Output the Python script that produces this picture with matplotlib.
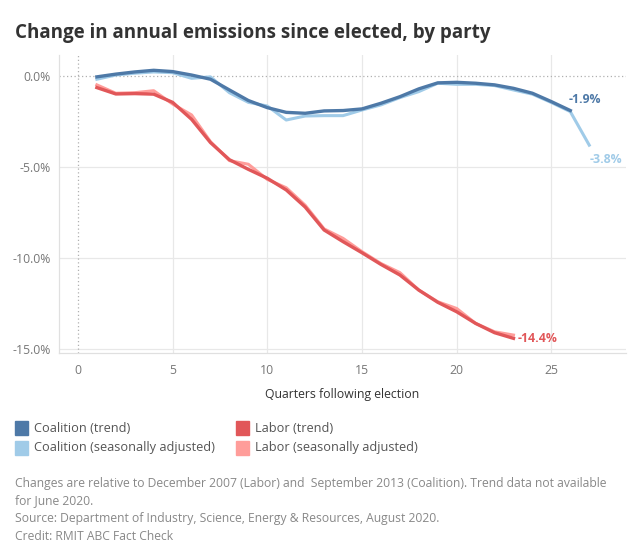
import matplotlib.pyplot as plt
from matplotlib.patches import Rectangle

plt.rcParams['font.family'] = ['Open Sans', 'DejaVu Sans']

# quarters following election
quarters_coal = list(range(1, 28))
quarters_lab = list(range(1, 24))

# coalition trend has no value for the last quarter (June 2020)
coal_trend = [-0.05, 0.10, 0.22, 0.31, 0.24, 0.05, -0.18, -0.77, -1.35, -1.74,
              -2.00, -2.05, -1.92, -1.90, -1.81, -1.50, -1.14, -0.71, -0.38, -0.35,
              -0.40, -0.49, -0.68, -0.95, -1.41, -1.90]
coal_sa = [-0.18, 0.05, 0.15, 0.22, 0.18, -0.13, -0.05, -0.92, -1.45, -1.65,
           -2.42, -2.20, -2.18, -2.18, -1.87, -1.59, -1.19, -0.86, -0.40, -0.46,
           -0.46, -0.53, -0.77, -1.00, -1.46, -1.96, -3.80]
lab_trend = [-0.64, -0.99, -0.97, -1.00, -1.45, -2.38, -3.66, -4.60, -5.13, -5.62,
             -6.26, -7.20, -8.46, -9.10, -9.71, -10.35, -10.93, -11.76, -12.43, -12.95,
             -13.59, -14.10, -14.41]
lab_sa = [-0.49, -0.95, -0.92, -0.81, -1.54, -2.14, -3.61, -4.65, -4.85, -5.68,
          -6.14, -7.10, -8.40, -8.92, -9.65, -10.30, -10.80, -11.76, -12.40, -12.77,
          -13.59, -14.05, -14.23]

c_coal = '#4e79a7'
c_coal_sa = '#a0cbe8'
c_lab = '#e15759'
c_lab_sa = '#ff9d9a'

fig = plt.figure(figsize=(6.37, 5.59), dpi=100)
ax = fig.add_axes([0.0926, 0.369, 0.8904, 0.5326])

ax.plot(quarters_lab, lab_sa, color=c_lab_sa, lw=2.2, solid_joinstyle='round')
ax.plot(quarters_lab, lab_trend, color=c_lab, lw=2.4, solid_joinstyle='round')
ax.plot(quarters_coal, coal_sa, color=c_coal_sa, lw=2.2, solid_joinstyle='round')
ax.plot(quarters_coal[:-1], coal_trend, color=c_coal, lw=2.4, solid_joinstyle='round')

# end labels
ax.annotate('-1.9%', (quarters_coal[-2], coal_trend[-1]), xytext=(-1, 3.5),
            textcoords='offset points', color=c_coal, fontsize=8.8,
            fontweight='bold', va='bottom', ha='left')
ax.annotate('-3.8%', (quarters_coal[-1], coal_sa[-1]), xytext=(0, -5.5),
            textcoords='offset points', color=c_coal_sa, fontsize=8.8,
            fontweight='bold', va='top', ha='left')
ax.annotate('-14.4%', (quarters_lab[-1], lab_trend[-1]), xytext=(3, 0),
            textcoords='offset points', color=c_lab, fontsize=8.8,
            fontweight='bold', va='center', ha='left')

ax.set_xlim(-1, 28.95)
ax.set_ylim(-15.2, 1.15)
ax.set_xticks([0, 5, 10, 15, 20, 25])
ax.set_yticks([0, -5, -10, -15])
ax.set_yticklabels(['0.0%', '-5.0%', '-10.0%', '-15.0%'])
ax.tick_params(length=0, labelsize=8.8, labelcolor='#777777')
ax.tick_params(axis='x', pad=8)
ax.tick_params(axis='y', pad=6)

for x in [5, 10, 15, 20, 25]:
    ax.axvline(x, color='#e8e8e8', lw=0.9, zorder=0)
for y in [-5, -10, -15]:
    ax.axhline(y, color='#e8e8e8', lw=0.9, zorder=0)
ax.axhline(0, color='#b0b0b0', lw=0.9, ls=(0, (1, 2)), zorder=0)
ax.axvline(0, color='#b0b0b0', lw=0.9, ls=(0, (1, 2)), zorder=0)

for s in ['top', 'right']:
    ax.spines[s].set_visible(False)
for s in ['left', 'bottom']:
    ax.spines[s].set_color('#e0e0e0')
    ax.spines[s].set_linewidth(0.9)

ax.set_xlabel('Quarters following election', fontsize=8.8, color='#333333',
              labelpad=8)

fig.text(15 / 637, 1 - 33 / 559, 'Change in annual emissions since elected, by party',
         fontsize=13.5, fontweight='bold', color='#333333', va='center')

# legend
legend_items = [('Coalition (trend)', c_coal, 15, 428),
                ('Coalition (seasonally adjusted)', c_coal_sa, 15, 448),
                ('Labor (trend)', c_lab, 236, 428),
                ('Labor (seasonally adjusted)', c_lab_sa, 236, 448)]
for label, col, px, py in legend_items:
    fig.patches.append(Rectangle((px / 637, 1 - (py + 7) / 559), 13 / 637, 14 / 559,
                                 transform=fig.transFigure, color=col))
    fig.text((px + 19) / 637, 1 - py / 559, label, fontsize=9.2, color='#555555',
             va='center')

notes = ['Changes are relative to December 2007 (Labor) and  September 2013 (Coalition). Trend data not available',
         'for June 2020.',
         'Source: Department of Industry, Science, Energy & Resources, August 2020.',
         'Credit: RMIT ABC Fact Check']
for i, line in enumerate(notes):
    fig.text(15 / 637, 1 - (483 + 17.7 * i) / 559, line, fontsize=8.75,
             color='#888888', va='center')

fig.savefig('out.png', dpi=100)
